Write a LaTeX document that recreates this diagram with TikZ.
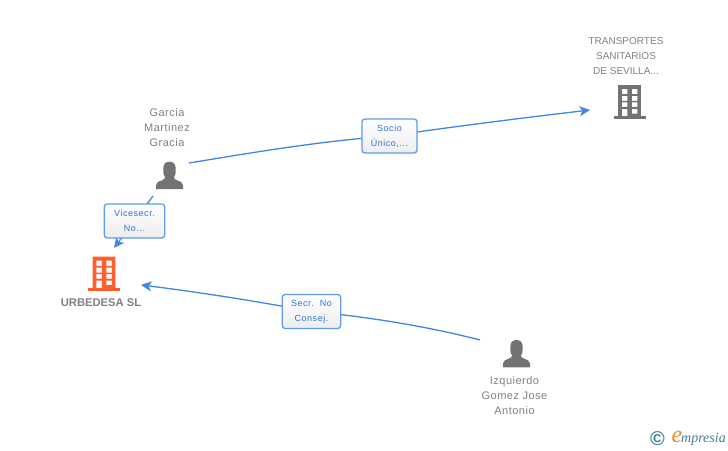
\documentclass[tikz,border=0pt]{standalone}
\usepackage{fontspec}
\setmainfont{Liberation Sans}
\newfontfamily\logofont{Liberation Serif}
\newfontfamily\spacedfont[LetterSpace=6]{Liberation Sans}
\newfontfamily\capspaced[LetterSpace=4.5]{Liberation Sans}
\usetikzlibrary{arrows.meta,backgrounds}
\definecolor{edgeblue}{HTML}{4285E4}
\definecolor{boxblue}{HTML}{5E9BEA}
\definecolor{labeltext}{HTML}{2F74D8}
\definecolor{icongrey}{HTML}{737373}
\definecolor{textgrey}{HTML}{808080}
\definecolor{brandorange}{HTML}{FF5F30}
\definecolor{logoteal}{HTML}{3F7F96}
\definecolor{logoorange}{HTML}{F08A24}
\tikzset{
  x=1pt,y=-1pt,
  conn/.style={draw=edgeblue,line width=1.3pt},
  connarrow/.style={conn,-{Stealth[length=10.5pt,width=10pt,inset=3pt]}},
  relbox/.style={draw=boxblue,line width=1.3pt,rounded corners=3pt,top color=white,bottom color=black!7,
    text=labeltext,font=\spacedfont\fontsize{9}{15}\selectfont,align=center,inner sep=0pt},
  captext/.style={text=textgrey,font=\capspaced\fontsize{11}{15}\selectfont,align=center,inner sep=0pt},
  capsmall/.style={text=textgrey,font=\fontsize{10}{15}\selectfont,align=center,inner sep=0pt},
  pics/building/.style={code={
    \fill[#1,even odd rule] (4.7,0) rectangle (27.3,31.3)
      (8.4,4) rectangle (13.9,9.2) (18.4,4) rectangle (23.9,9.2)
      (8.4,10.8) rectangle (13.9,15.8) (18.4,10.8) rectangle (23.9,15.8)
      (8.4,17.4) rectangle (13.9,21.9) (18.4,17.4) rectangle (23.9,21.9)
      (8.4,24) rectangle (13.9,31.3) (18.4,24) rectangle (23.9,28.5);
    \fill[#1] (0,31.3) rectangle (32,34.3);
  }},
  pics/person/.style={code={
    \fill[icongrey] (0,27.3) -- (0,23.5) .. controls (0,20.5) and (3,19.6) .. (6,18.6)
      .. controls (8.2,17.8) and (9,17) .. (9,15.4)
      .. controls (7.8,13.8) and (7.4,12) .. (7.3,10.5)
      .. controls (6.8,9.8) and (7,8.4) .. (7.4,8)
      .. controls (6.8,2.4) and (9.5,0) .. (13.5,0)
      .. controls (17.5,0) and (20.2,2.4) .. (19.6,8)
      .. controls (20,8.4) and (20.2,9.8) .. (19.7,10.5)
      .. controls (19.6,12) and (19.2,13.8) .. (18,15.4)
      .. controls (18,17) and (18.8,17.8) .. (21,18.6)
      .. controls (24,19.6) and (27,20.5) .. (27,23.5) -- (27,27.3) -- cycle;
  }}
}
\begin{document}
\begin{tikzpicture}
\useasboundingbox (0,0) rectangle (728,450);
% icons
\pic at (88,256.7) {building=brandorange};
\pic at (613.5,85) {building=icongrey};
\pic at (156,161.7) {person};
\pic at (503,340) {person};
% captions
\node[capsmall] (tsdes) at (626,56) {TRANSPORTES\\SANITARIOS\\DE SEVILLA...};
\node[captext] (garcia) at (167,128) {Garcia\\Martinez\\Gracia};
\node[captext] (izq) at (514.5,396) {Izquierdo\\Gomez Jose\\Antonio};
\node[capsmall,font=\fontsize{11.2}{13}\selectfont\bfseries] (urb) at (101,303) {URBEDESA SL};
% relation boxes
\node[relbox,minimum width=55pt,minimum height=34pt] (socio) at (389.5,136) {Socio\\Único,...};
\node[relbox,minimum width=60.5pt,minimum height=34pt] (vice) at (134.5,221) {Vicesecr.\\No...};
\node[relbox,minimum width=58.5pt,minimum height=34pt] (secr) at (311.5,311.5) {Secr.\ \ No\\Consej.};
% connector ends
\coordinate (garciaout) at (189,163);
\coordinate (tsin) at (590,110);
\coordinate (garciadown) at (153,196);
\coordinate (urbtop) at (114,248);
\coordinate (izqout) at (480,340);
\coordinate (urbin) at (141,285);
\begin{scope}[on background layer]
\draw[conn] (garciaout) .. controls (250,153) and (320,141) .. (socio.center);
\draw[connarrow] (socio.center) .. controls (450,127) and (530,117) .. (tsin);
\draw[conn] (garciadown) -- (vice.center);
\draw[connarrow] (vice.center) -- (urbtop);
\draw[conn] (izqout) .. controls (430,327) and (370,317) .. (secr.center);
\draw[connarrow] (secr.center) .. controls (250,300) and (190,291) .. (urbin);
\end{scope}
% logo
\node[inner sep=0pt,text=logoteal,font=\bfseries\fontsize{20}{20}\selectfont] (copy) at (657.5,438.5) {©};
\node[inner sep=0pt,text=logoorange,font=\logofont\itshape\fontsize{24}{24}\selectfont] (logoe) at (677,436.5) {e};
\node[inner sep=0pt,anchor=west,text=logoteal,font=\logofont\itshape\fontsize{14}{14}\selectfont] (logot) at (681,439) {mpresia};
\end{tikzpicture}
\end{document}
